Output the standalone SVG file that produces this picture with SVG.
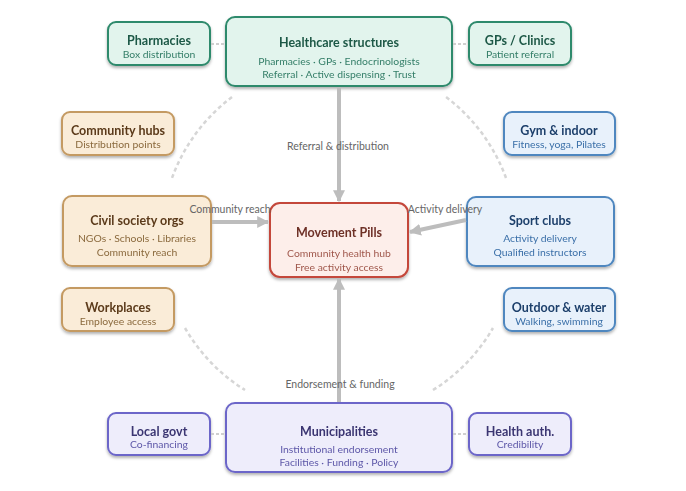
<svg xmlns="http://www.w3.org/2000/svg" width="686" height="491" viewBox="0 0 686 491">
<defs>
<filter id="sh" x="-10%" y="-10%" width="120%" height="130%">
<feDropShadow dx="0" dy="2" stdDeviation="1.5" flood-color="#000" flood-opacity="0.3"/>
</filter>
<marker id="ah" viewBox="0 0 10 10" refX="9" refY="5" markerWidth="3" markerHeight="3" orient="auto">
<path d="M0,0 L10,5 L0,10 z" fill="#bdbdbd"/>
</marker>
<style>
.t{font-family:Lato,"Liberation Sans",sans-serif;font-weight:bold;font-size:12.5px;text-anchor:middle}
.s{font-family:Lato,"Liberation Sans",sans-serif;font-size:10.4px;text-anchor:middle}
.lb{font-family:Lato,"Liberation Sans",sans-serif;font-size:10.5px;fill:#666;text-anchor:middle}
.g rect{fill:#e2f4ed;stroke:#2f8a6c;stroke-width:2}
.g .t{fill:#1e5947}.g .s{fill:#347e68}
.o rect{fill:#faecd8;stroke:#c49a62;stroke-width:2}
.o .t{fill:#5b3a1a}.o .s{fill:#8b6a3e}
.r rect{fill:#fdeeea;stroke:#c4473a;stroke-width:2}
.r .t{fill:#6e3028}.r .s{fill:#a0584c}
.b rect{fill:#e8f1fb;stroke:#4f87bf;stroke-width:2}
.b .t{fill:#1d3f6b}.b .s{fill:#3a6fa8}
.p rect{fill:#eeedfb;stroke:#6c66c9;stroke-width:2}
.p .t{fill:#3b3672}.p .s{fill:#5d57a8}
.ring{fill:none;stroke:#d6d6d6;stroke-width:2.5;stroke-dasharray:4 3}
.c{fill:none;stroke:#bdbdbd;stroke-width:4}
.sc{fill:none;stroke:#cfcfcf;stroke-width:2;stroke-dasharray:3 2}
</style>
</defs>
<g id="healthcare" class="g" filter="url(#sh)">
<rect x="226" y="17" width="226" height="69" rx="9"/>
<text class="t" x="339" y="47">Healthcare structures</text>
<text class="s" x="339" y="65">Pharmacies · GPs · Endocrinologists</text>
<text class="s" x="339" y="78">Referral · Active dispensing · Trust</text>
</g>
<g id="pharmacies" class="g" filter="url(#sh)">
<rect x="108" y="22" width="102" height="43" rx="8"/>
<text class="t" x="159" y="45">Pharmacies</text>
<text class="s" x="159" y="58">Box distribution</text>
</g>
<g id="gps" class="g" filter="url(#sh)">
<rect x="469" y="22" width="102" height="43" rx="8"/>
<text class="t" x="520" y="45">GPs / Clinics</text>
<text class="s" x="520" y="58">Patient referral</text>
</g>
<g id="hubs" class="o" filter="url(#sh)">
<rect x="62" y="112" width="112" height="43" rx="8"/>
<text class="t" x="118" y="135">Community hubs</text>
<text class="s" x="118" y="148">Distribution points</text>
</g>
<g id="civil" class="o" filter="url(#sh)">
<rect x="63" y="196" width="148" height="70" rx="9"/>
<text class="t" x="137" y="225">Civil society orgs</text>
<text class="s" x="137" y="242">NGOs · Schools · Libraries</text>
<text class="s" x="137" y="256">Community reach</text>
</g>
<g id="workplaces" class="o" filter="url(#sh)">
<rect x="62" y="288" width="112" height="43" rx="8"/>
<text class="t" x="118" y="312">Workplaces</text>
<text class="s" x="118" y="325">Employee access</text>
</g>
<g id="pills" class="r" filter="url(#sh)">
<rect x="270" y="203" width="138" height="74" rx="10"/>
<text class="t" x="339" y="237">Movement Pills</text>
<text class="s" x="339" y="257">Community health hub</text>
<text class="s" x="339" y="271">Free activity access</text>
</g>
<g id="gym" class="b" filter="url(#sh)">
<rect x="504" y="112" width="111" height="43" rx="8"/>
<text class="t" x="559" y="135">Gym &amp; indoor</text>
<text class="s" x="559" y="148">Fitness, yoga, Pilates</text>
</g>
<g id="sport" class="b" filter="url(#sh)">
<rect x="467" y="197" width="147" height="69" rx="9"/>
<text class="t" x="540" y="225">Sport clubs</text>
<text class="s" x="540" y="242">Activity delivery</text>
<text class="s" x="540" y="256">Qualified instructors</text>
</g>
<g id="outdoor" class="b" filter="url(#sh)">
<rect x="504" y="288" width="111" height="43" rx="8"/>
<text class="t" x="559" y="312">Outdoor &amp; water</text>
<text class="s" x="559" y="325">Walking, swimming</text>
</g>
<g id="localgovt" class="p" filter="url(#sh)">
<rect x="108" y="413" width="102" height="42" rx="8"/>
<text class="t" x="159" y="436">Local govt</text>
<text class="s" x="159" y="448">Co-financing</text>
</g>
<g id="municipalities" class="p" filter="url(#sh)">
<rect x="226" y="403" width="226" height="69" rx="9"/>
<text class="t" x="339" y="436">Municipalities</text>
<text class="s" x="339" y="453">Institutional endorsement</text>
<text class="s" x="339" y="466">Facilities · Funding · Policy</text>
</g>
<g id="healthauth" class="p" filter="url(#sh)">
<rect x="469" y="413" width="102" height="42" rx="8"/>
<text class="t" x="520" y="436">Health auth.</text>
<text class="s" x="520" y="448">Credibility</text>
</g>
<g id="connectors">
<path class="ring" d="M232,97 A178,178 0 0 0 172,178"/>
<path class="ring" d="M185,328 A178,178 0 0 0 245,390"/>
<path class="ring" d="M433,390 A178,178 0 0 0 493,328"/>
<path class="ring" d="M506,178 A178,178 0 0 0 446,97"/>
<line class="c" x1="339" y1="88" x2="339" y2="201" marker-end="url(#ah)"/>
<line class="c" x1="339" y1="402" x2="339" y2="279" marker-end="url(#ah)"/>
<line class="c" x1="212" y1="222" x2="268" y2="222" marker-end="url(#ah)"/>
<line class="c" x1="466" y1="220" x2="410" y2="232" marker-end="url(#ah)"/>
<line class="sc" x1="211" y1="44" x2="225" y2="44"/>
<line class="sc" x1="453" y1="44" x2="468" y2="44"/>
<line class="sc" x1="211" y1="434" x2="225" y2="434"/>
<line class="sc" x1="453" y1="434" x2="468" y2="434"/>
<text class="lb" x="338" y="150">Referral &amp; distribution</text>
<text class="lb" x="340" y="388">Endorsement &amp; funding</text>
<text class="lb" x="230" y="213">Community reach</text>
<text class="lb" x="445" y="213">Activity delivery</text>
</g>
</svg>
